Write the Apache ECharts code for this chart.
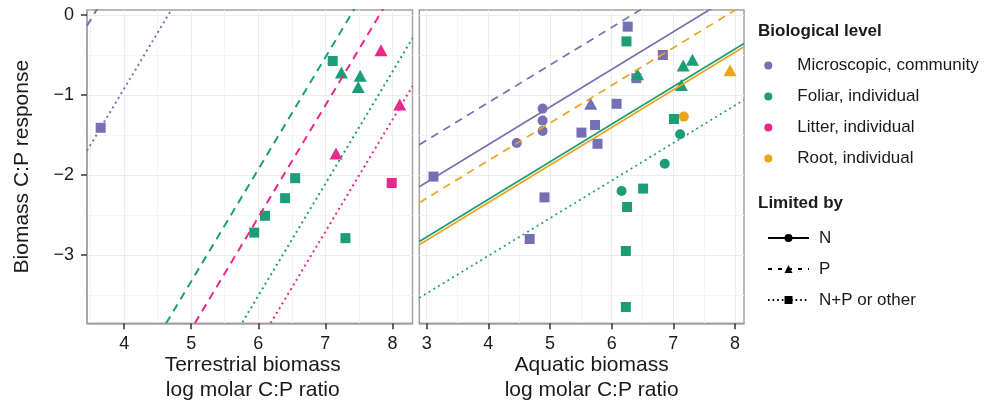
<!DOCTYPE html>
<html>
<head>
<meta charset="utf-8">
<script src="https://cdn.jsdelivr.net/npm/echarts@6/dist/echarts.min.js"></script>
<style>
html, body { margin: 0; padding: 0; background: #fff; }
#chart { width: 996px; height: 403px; }
</style>
</head>
<body>
<div id="chart"></div>
<script>
// categories
const levels = ['Microscopic, community', 'Foliar, individual', 'Litter, individual', 'Root, individual'];
const limits = ['N', 'P', 'N+P or other'];

// tick values
const yTicks = [0, -1, -2, -3];
const yMinor = [-0.5, -1.5, -2.5, -3.5];
const xTicksTerr = [4, 5, 6, 7, 8];
const xMinorTerr = [3.5, 4.5, 5.5, 6.5, 7.5];
const xTicksAqua = [3, 4, 5, 6, 7, 8];
const xMinorAqua = [3.5, 4.5, 5.5, 6.5, 7.5];

// points: [x, y, level, limited by]
const terrestrialPoints = [
    [3.65, -1.41, 'Microscopic, community', 'N+P or other'],
    [7.11, -0.575, 'Foliar, individual', 'N+P or other'],
    [7.24, -0.72, 'Foliar, individual', 'P'],
    [7.52, -0.76, 'Foliar, individual', 'P'],
    [7.49, -0.90, 'Foliar, individual', 'P'],
    [6.55, -2.04, 'Foliar, individual', 'N+P or other'],
    [6.40, -2.29, 'Foliar, individual', 'N+P or other'],
    [6.10, -2.51, 'Foliar, individual', 'N+P or other'],
    [5.94, -2.72, 'Foliar, individual', 'N+P or other'],
    [7.30, -2.79, 'Foliar, individual', 'N+P or other'],
    [7.83, -0.44, 'Litter, individual', 'P'],
    [8.11, -1.12, 'Litter, individual', 'P'],
    [7.16, -1.73, 'Litter, individual', 'P'],
    [7.99, -2.10, 'Litter, individual', 'N+P or other']
];

const aquaticPoints = [
    [3.11, -2.02, 'Microscopic, community', 'N+P or other'],
    [4.46, -1.60, 'Microscopic, community', 'N'],
    [4.88, -1.17, 'Microscopic, community', 'N'],
    [4.88, -1.32, 'Microscopic, community', 'N'],
    [4.88, -1.45, 'Microscopic, community', 'N'],
    [4.91, -2.28, 'Microscopic, community', 'N+P or other'],
    [4.67, -2.80, 'Microscopic, community', 'N+P or other'],
    [5.51, -1.47, 'Microscopic, community', 'N+P or other'],
    [5.73, -1.375, 'Microscopic, community', 'N+P or other'],
    [5.77, -1.61, 'Microscopic, community', 'N+P or other'],
    [5.66, -1.11, 'Microscopic, community', 'P'],
    [6.08, -1.11, 'Microscopic, community', 'N+P or other'],
    [6.26, -0.146, 'Microscopic, community', 'N+P or other'],
    [6.40, -0.79, 'Microscopic, community', 'N+P or other'],
    [6.83, -0.50, 'Microscopic, community', 'N+P or other'],
    [6.24, -0.33, 'Foliar, individual', 'N+P or other'],
    [6.42, -0.74, 'Foliar, individual', 'P'],
    [7.16, -0.63, 'Foliar, individual', 'P'],
    [7.31, -0.56, 'Foliar, individual', 'P'],
    [7.13, -0.875, 'Foliar, individual', 'P'],
    [7.01, -1.30, 'Foliar, individual', 'N+P or other'],
    [7.11, -1.49, 'Foliar, individual', 'N'],
    [6.86, -1.86, 'Foliar, individual', 'N'],
    [6.16, -2.20, 'Foliar, individual', 'N'],
    [6.51, -2.17, 'Foliar, individual', 'N+P or other'],
    [6.25, -2.40, 'Foliar, individual', 'N+P or other'],
    [6.23, -2.95, 'Foliar, individual', 'N+P or other'],
    [6.23, -3.65, 'Foliar, individual', 'N+P or other'],
    [7.92, -0.69, 'Root, individual', 'P'],
    [7.17, -1.27, 'Root, individual', 'N']
];

// fitted lines: [level, limited by, slope, intercept]
const terrestrialFits = [
    ['Microscopic, community', 'N+P or other', 1.40, -6.52],
    ['Microscopic, community', 'P', 1.40, -4.96],
    ['Foliar, individual', 'P', 1.40, -10.33],
    ['Litter, individual', 'P', 1.40, -10.93],
    ['Foliar, individual', 'N+P or other', 1.40, -11.91],
    ['Litter, individual', 'N+P or other', 1.40, -12.51]
];

const aquaticFits = [
    ['Microscopic, community', 'P', 0.47, -2.975],
    ['Microscopic, community', 'N', 0.47, -3.50],
    ['Root, individual', 'P', 0.47, -3.70],
    ['Root, individual', 'N', 0.47, -4.225],
    ['Foliar, individual', 'N', 0.47, -4.185],
    ['Foliar, individual', 'N+P or other', 0.47, -4.89]
];

const yRange = [-3.854, 0.0625];
const terrRange = [3.446, 8.30];
const aquaRange = [2.88, 8.146];

// styles
const levelColors = {
    'Microscopic, community': '#7570B3',
    'Foliar, individual': '#1B9E77',
    'Litter, individual': '#E7298A',
    'Root, individual': '#EEA31E'
};
const limitSymbols = { 'N': 'circle', 'P': 'triangle', 'N+P or other': 'rect' };
const symbolSizes = { circle: 10, triangle: [13, 12], rect: 10 };
const limitDash = { 'N': 'solid', 'P': [8, 6], 'N+P or other': [2, 3.5] };

const FONT = '"Liberation Sans", Arial, sans-serif';
const TEXT = '#1a1a1a';
const BORDER = '#a89e9e';

function minusSign(v) {
    return String(v).replace('-', '\u2212');
}

const tickStyle = { show: true, inside: false, length: 6, lineStyle: { color: '#333', width: 1.5 } };

function mainX(grid, range, ticks, name, pad) {
    return {
        type: 'value', gridIndex: grid, min: range[0], max: range[1], position: 'bottom',
        name: name, nameLocation: 'middle', nameGap: 29, nameMoveOverlap: false,
        nameTextStyle: { fontFamily: FONT, fontSize: 21, color: TEXT, lineHeight: 25, padding: [0, 0, 0, pad] },
        axisLine: { show: true, onZero: false, lineStyle: { color: BORDER, width: 1.5 } },
        axisTick: Object.assign({ customValues: ticks }, tickStyle),
        axisLabel: { customValues: ticks, margin: 12, fontFamily: FONT, fontSize: 18, color: TEXT },
        splitLine: { show: true, lineStyle: { color: '#ececec', width: 1 } }
    };
}

function minorAxis(type, grid, range, ticks) {
    return {
        type: 'value', gridIndex: grid, min: range[0], max: range[1],
        position: type === 'x' ? 'top' : 'right',
        axisLine: { show: false, onZero: false },
        axisTick: { show: false, customValues: ticks },
        axisLabel: { show: false },
        splitLine: { show: true, lineStyle: { color: '#f4f4f4', width: 1 } }
    };
}

function pointSeries(points, idx) {
    return levels.map(lv => ({
        type: 'scatter',
        name: lv,
        xAxisIndex: idx, yAxisIndex: idx,
        z: 2,
        itemStyle: { color: levelColors[lv], opacity: 1 },
        data: points.filter(p => p[2] === lv).map(p => {
            const sym = limitSymbols[p[3]];
            return { value: [p[0], p[1]], symbol: sym, symbolSize: symbolSizes[sym] };
        })
    })).filter(s => s.data.length);
}

function fitSeries(fits, idx, range, width) {
    return fits.map((f, i) => ({
        type: 'line',
        name: 'fit-' + idx + '-' + i,
        xAxisIndex: idx, yAxisIndex: idx,
        z: 3, silent: true, symbol: 'none', clip: true,
        lineStyle: { color: levelColors[f[0]], width: width, type: limitDash[f[1]] },
        data: range.map(x => [x, f[2] * x + f[3]])
    }));
}

const legendSeries = limits.map(l => ({
    type: 'line',
    name: l,
    symbol: limitSymbols[l],
    symbolSize: 8,
    itemStyle: { color: '#000' },
    lineStyle: { color: '#000', width: 1.6, type: l === 'P' ? [4, 6] : (l === 'N' ? 'solid' : [1.6, 3]) },
    data: []
}));

const chart = echarts.init(document.getElementById('chart'));

chart.setOption({
    backgroundColor: '#fff',
    animation: false,
    grid: [
        { left: 87, top: 10, width: 325.5, height: 313.3, outerBoundsMode: 'none', containLabel: false, show: true, backgroundColor: '#fff', borderColor: BORDER, borderWidth: 1.5 },
        { left: 419.3, top: 10, width: 324.7, height: 313.3, outerBoundsMode: 'none', containLabel: false, show: true, backgroundColor: '#fff', borderColor: BORDER, borderWidth: 1.5 }
    ],
    xAxis: [
        mainX(0, terrRange, xTicksTerr, 'Terrestrial biomass\nlog molar C:P ratio', 6),
        mainX(1, aquaRange, xTicksAqua, 'Aquatic biomass\nlog molar C:P ratio', 20),
        minorAxis('x', 0, terrRange, xMinorTerr),
        minorAxis('x', 1, aquaRange, xMinorAqua)
    ],
    yAxis: [
        {
            type: 'value', gridIndex: 0, min: yRange[0], max: yRange[1], position: 'left',
            name: 'Biomass C:P response', nameLocation: 'middle', nameGap: 54, nameMoveOverlap: false,
            nameTextStyle: { fontFamily: FONT, fontSize: 21, color: TEXT },
            axisLine: { show: true, onZero: false, lineStyle: { color: BORDER, width: 1.5 } },
            axisTick: Object.assign({ customValues: yTicks }, tickStyle),
            axisLabel: { customValues: yTicks, margin: 13, fontFamily: FONT, fontSize: 18, color: TEXT, formatter: minusSign },
            splitLine: { show: true, lineStyle: { color: '#ececec', width: 1 } }
        },
        {
            type: 'value', gridIndex: 1, min: yRange[0], max: yRange[1], position: 'left',
            axisLine: { show: false, onZero: false },
            axisTick: { show: false, customValues: yTicks },
            axisLabel: { show: false, customValues: yTicks },
            splitLine: { show: true, lineStyle: { color: '#ececec', width: 1 } }
        },
        minorAxis('y', 0, yRange, yMinor),
        minorAxis('y', 1, yRange, yMinor)
    ],
    legend: [
        {
            data: levels, icon: 'circle', orient: 'vertical',
            left: 759.3, top: 52, itemWidth: 48, itemHeight: 8, itemGap: 14,
            selectedMode: false,
            textStyle: { fontFamily: FONT, fontSize: 17, color: TEXT, lineHeight: 17 }
        },
        {
            data: limits, orient: 'vertical',
            left: 762, top: 224.5, itemWidth: 41, itemHeight: 10, itemGap: 14,
            selectedMode: false,
            textStyle: { fontFamily: FONT, fontSize: 17, color: TEXT, lineHeight: 17, padding: [0, 0, 0, 5] }
        }
    ],
    graphic: [
        { type: 'text', left: 758, top: 23, style: { text: 'Biological level', font: 'bold 17px ' + FONT, fill: TEXT } },
        { type: 'text', left: 758, top: 195, style: { text: 'Limited by', font: 'bold 17px ' + FONT, fill: TEXT } }
    ],
    series: [
        ...pointSeries(terrestrialPoints, 0),
        ...pointSeries(aquaticPoints, 1),
        ...fitSeries(terrestrialFits, 0, terrRange, 2),
        ...fitSeries(aquaticFits, 1, aquaRange, 1.7),
        ...legendSeries
    ]
});
</script>
</body>
</html>
